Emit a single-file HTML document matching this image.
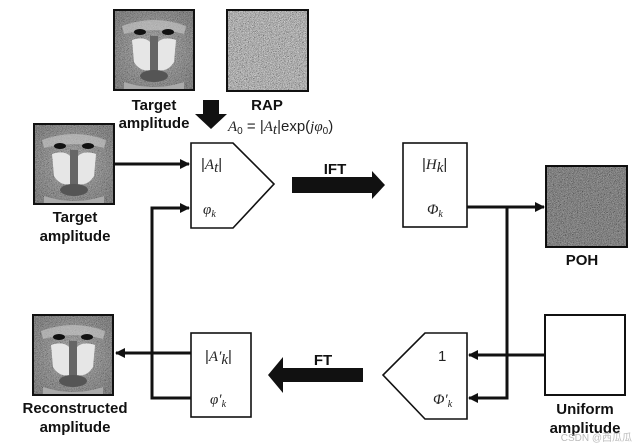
<!DOCTYPE html>
<html><head><meta charset="utf-8"><style>
html,body{margin:0;padding:0;background:#fff;width:639px;height:446px;overflow:hidden}
svg{display:block}
.b{font-family:"Liberation Sans",Arial,sans-serif;font-weight:bold;font-size:15px;fill:#111}
.m{font-family:"Liberation Serif",serif;font-style:italic;font-size:15px;fill:#222}
.r{font-family:"Liberation Sans",sans-serif;font-size:15px;fill:#222}
</style></head><body>
<svg width="639" height="446" viewBox="0 0 639 446" xmlns="http://www.w3.org/2000/svg">
<defs>
<filter id="nz" x="0" y="0" width="100%" height="100%">
<feTurbulence type="fractalNoise" baseFrequency="1.2" numOctaves="2" seed="3"/>
<feColorMatrix type="matrix" values="0.33 0.33 0.33 0 0  0.33 0.33 0.33 0 0  0.33 0.33 0.33 0 0  0 0 0 0 1"/>
<feComponentTransfer><feFuncR type="linear" slope="2.2" intercept="-0.6"/><feFuncG type="linear" slope="2.2" intercept="-0.6"/><feFuncB type="linear" slope="2.2" intercept="-0.6"/></feComponentTransfer>
</filter>
<radialGradient id="fg" cx="0.5" cy="0.5" r="0.6"><stop offset="0" stop-color="#888"/><stop offset="1" stop-color="#444"/></radialGradient>
<g id="bab">
<rect x="0" y="0" width="80" height="80" fill="url(#fg)"/>
<rect x="0" y="0" width="80" height="80" filter="url(#nz)" opacity="0.5"/>
<path d="M8 16 Q40 4 72 16 L70 24 Q40 16 10 24Z" fill="#ccc" opacity="0.6"/>
<ellipse cx="26" cy="22" rx="6" ry="3" fill="#111"/><ellipse cx="54" cy="22" rx="6" ry="3" fill="#111"/>
<path d="M18 30 Q30 26 36 32 L36 60 Q26 62 20 52Z" fill="#e6e6e6"/>
<path d="M62 30 Q50 26 44 32 L44 60 Q54 62 60 52Z" fill="#e6e6e6"/>
<rect x="36" y="26" width="8" height="36" fill="#666"/>
<ellipse cx="40" cy="66" rx="14" ry="6" fill="#555"/>
<path d="M10 72 Q40 82 70 72 L70 80 L10 80Z" fill="#aaa"/>
<rect x="0" y="0" width="80" height="80" fill="none" stroke="#111" stroke-width="2"/>
</g>
<g id="noise"><rect width="81" height="81" fill="#666"/><rect width="81" height="81" filter="url(#nz)" opacity="0.85"/><rect width="81" height="81" fill="none" stroke="#111" stroke-width="2"/></g>
<marker id="ah" markerWidth="10" markerHeight="10" refX="9" refY="5" orient="auto" markerUnits="userSpaceOnUse"><path d="M0 0 L10 5 L0 10Z" fill="#111"/></marker>
</defs>

<use href="#bab" x="114" y="10"/>
<use href="#noise" x="227" y="10"/>
<use href="#bab" x="34" y="124"/>
<use href="#bab" x="33" y="315"/>
<use href="#noise" x="546" y="166"/>
<rect x="546" y="166" width="81" height="81" fill="#000" opacity="0.25"/>
<rect x="545" y="315" width="80" height="80" fill="#fff" stroke="#111" stroke-width="2"/>

<text class="b" x="154" y="110" text-anchor="middle">Target</text>
<text class="b" x="154" y="128" text-anchor="middle">amplitude</text>
<text class="b" x="267" y="110" text-anchor="middle">RAP</text>
<text class="r" x="228" y="131"><tspan class="m">A</tspan><tspan font-size="10" dy="3">0</tspan><tspan dy="-3"> = |</tspan><tspan class="m">A</tspan><tspan class="m" font-size="10" dy="3">t</tspan><tspan dy="-3">|exp(</tspan><tspan class="m">jφ</tspan><tspan font-size="10" dy="3">0</tspan><tspan dy="-3">)</tspan></text>
<path d="M203 100 H219 V114 H227 L211 129 L195 114 H203Z" fill="#111"/>

<text class="b" x="75" y="222" text-anchor="middle">Target</text>
<text class="b" x="75" y="241" text-anchor="middle">amplitude</text>
<text class="b" x="582" y="265" text-anchor="middle">POH</text>
<text class="b" x="585" y="414" text-anchor="middle">Uniform</text>
<text class="b" x="585" y="433" text-anchor="middle">amplitude</text>
<text class="b" x="75" y="413" text-anchor="middle">Reconstructed</text>
<text class="b" x="75" y="432" text-anchor="middle">amplitude</text>

<path d="M191 143 H233 L274 184 L233 228 H191Z" fill="#fff" stroke="#111" stroke-width="1.6"/>
<text class="r" x="201" y="169">|<tspan class="m">A</tspan><tspan class="m" font-size="10" dy="3">t</tspan><tspan dy="-3">|</tspan></text>
<text class="m" x="203" y="214">φ<tspan font-size="10" dy="3">k</tspan></text>
<rect x="403" y="143" width="64" height="84" fill="#fff" stroke="#111" stroke-width="1.6"/>
<text class="r" x="422" y="169">|<tspan class="m">H</tspan><tspan class="m" font-size="10" dy="3">k</tspan><tspan dy="-3">|</tspan></text>
<text class="m" x="427" y="214">Φ<tspan font-size="10" dy="3">k</tspan></text>
<rect x="191" y="333" width="60" height="84" fill="#fff" stroke="#111" stroke-width="1.6"/>
<text class="r" x="205" y="361">|<tspan class="m">A′</tspan><tspan class="m" font-size="10" dy="3">k</tspan><tspan dy="-3">|</tspan></text>
<text class="m" x="210" y="404">φ′<tspan font-size="10" dy="3">k</tspan></text>
<path d="M467 333 H425 L383 375 L425 419 H467Z" fill="#fff" stroke="#111" stroke-width="1.6"/>
<text class="r" x="438" y="361">1</text>
<text class="m" x="433" y="404">Φ′<tspan font-size="10" dy="3">k</tspan></text>

<text class="b" x="335" y="174" text-anchor="middle">IFT</text>
<path d="M292 177 H372 V171 L385 185 L372 199 V193 H292Z" fill="#111"/>
<text class="b" x="323" y="365" text-anchor="middle">FT</text>
<path d="M363 368 H283 V357 L268 375 L283 393 V382 H363Z" fill="#111"/>

<g stroke="#111" stroke-width="3" fill="none">
<line x1="114" y1="164" x2="189" y2="164" marker-end="url(#ah)"/>
<polyline points="191,398 152,398 152,208 189,208" marker-end="url(#ah)"/>
<line x1="191" y1="353" x2="116" y2="353" marker-end="url(#ah)"/>
<line x1="467" y1="207" x2="544" y2="207" marker-end="url(#ah)"/>
<polyline points="507,207 507,398 469,398" marker-end="url(#ah)"/>
<line x1="545" y1="355" x2="469" y2="355" marker-end="url(#ah)"/>
</g>
<text x="632" y="441" text-anchor="end" font-family="Liberation Sans, Noto Sans CJK SC, sans-serif" font-size="10" fill="#bbb">CSDN @西瓜瓜</text>
</svg>
</body></html>
